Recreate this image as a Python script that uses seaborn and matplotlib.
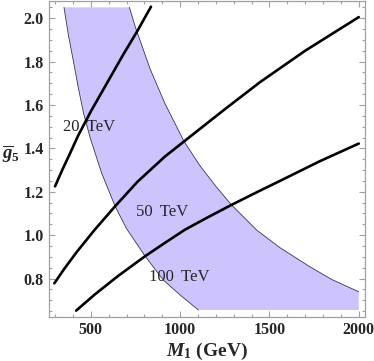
import numpy as np
import pandas as pd
import matplotlib
matplotlib.use("Agg")
import matplotlib.pyplot as plt
import seaborn as sns
from matplotlib.ticker import MultipleLocator

# values: M1 (GeV) and g5bar
tev20_m = [300, 340, 380, 430, 500, 590, 680, 760, 837]
tev20_g = [1.225, 1.30, 1.37, 1.46, 1.57, 1.70, 1.83, 1.94, 2.053]

tev50_m = [296, 350, 421, 520, 636, 760, 916, 1022, 1242, 1447, 1700, 2000]
tev50_g = [0.778, 0.843, 0.922, 1.023, 1.133, 1.245, 1.363, 1.432, 1.575, 1.705, 1.85, 2.005]

tev100_m = [418, 520, 650, 804, 916, 1027, 1150, 1289, 1447, 1559, 1780, 2000]
tev100_g = [0.652, 0.725, 0.81, 0.903, 0.965, 1.025, 1.08, 1.14, 1.205, 1.25, 1.34, 1.422]

# band edges
left_m = [350, 375, 402, 430, 460, 496, 561, 636, 700, 804, 906, 1000, 1102]
left_g = [2.05, 1.92, 1.805, 1.68, 1.56, 1.45, 1.285, 1.133, 1.03, 0.903, 0.793, 0.724, 0.655]
right_m = [716, 751, 832, 916, 1022, 1111, 1200, 1289, 1429, 1559, 1727, 1850, 2000]
right_g = [2.05, 1.955, 1.766, 1.605, 1.432, 1.32, 1.225, 1.138, 1.023, 0.942, 0.854, 0.795, 0.739]

labels = ["20 TeV", "50 TeV", "100 TeV"]
label_pos = [(490, 1.497), (899, 1.106), (994, 0.805)]

sns.set_style("ticks")
plt.rcParams["font.family"] = ["Liberation Serif", "DejaVu Serif"]
plt.rcParams["mathtext.fontset"] = "custom"
plt.rcParams["mathtext.rm"] = "Liberation Serif:bold"
plt.rcParams["mathtext.bf"] = "Liberation Serif:bold"
plt.rcParams["mathtext.it"] = "Liberation Serif:bold:italic"

fig = plt.figure(figsize=(3.74, 3.61), dpi=100)
ax = fig.add_axes([0.131, 0.1227, 0.845, 0.875])

# shaded band (clipped to the plot region at bottom/right)
poly_m = left_m + [2000] + right_m[::-1]
poly_g = left_g + [0.655] + right_g[::-1]
ax.fill(poly_m, poly_g, color="#cdc3fd", lw=0, zorder=1)
ax.plot(left_m, left_g, color="#3a3550", lw=0.6, zorder=2)
ax.plot(right_m, right_g, color="#3a3550", lw=0.6, zorder=2)

curves = pd.concat([
    pd.DataFrame({"M": tev20_m, "g": tev20_g, "c": labels[0]}),
    pd.DataFrame({"M": tev50_m, "g": tev50_g, "c": labels[1]}),
    pd.DataFrame({"M": tev100_m, "g": tev100_g, "c": labels[2]}),
])
sns.lineplot(data=curves, x="M", y="g", units="c", estimator=None, sort=False,
             color="black", lw=1.9, ax=ax, zorder=3)

for txt, (mx, gy) in zip(labels, label_pos):
    ax.text(mx, gy, txt.replace(" ", "\u2009 "), fontsize=12, ha="center", va="center",
            zorder=4)

ax.set_xlim(266, 2035)
ax.set_ylim(0.624, 2.080)
ax.xaxis.set_minor_locator(MultipleLocator(100))
ax.yaxis.set_minor_locator(MultipleLocator(0.05))
ax.set_xticks([500, 1000, 1500, 2000])
ax.set_yticks([0.8, 1.0, 1.2, 1.4, 1.6, 1.8, 2.0])
ax.set_yticklabels(["0.8", "1.0", "1.2", "1.4", "1.6", "1.8", "2.0"])

for s in ax.spines.values():
    s.set_color("#a0a0a0")
    s.set_linewidth(0.9)
ax.tick_params(which="both", direction="in", top=True, right=True,
               color="#a0a0a0", width=0.8)
ax.tick_params(which="major", length=4.5, labelsize=11.5, pad=4)
ax.tick_params(which="minor", length=2.5)
for lab in ax.get_xticklabels() + ax.get_yticklabels():
    lab.set_fontweight("bold")

ax.set_xlabel(r"$M_1$ (GeV)", fontsize=14, fontweight="bold", va="center")
ax.xaxis.set_label_coords(0.5, -0.11)
ax.set_ylabel(r"$\overline{g}_5$", fontsize=13.5, rotation=0, ha="center", va="center")
ax.yaxis.set_label_coords(-0.12, 0.515)

fig.savefig("out.png", dpi=100)
